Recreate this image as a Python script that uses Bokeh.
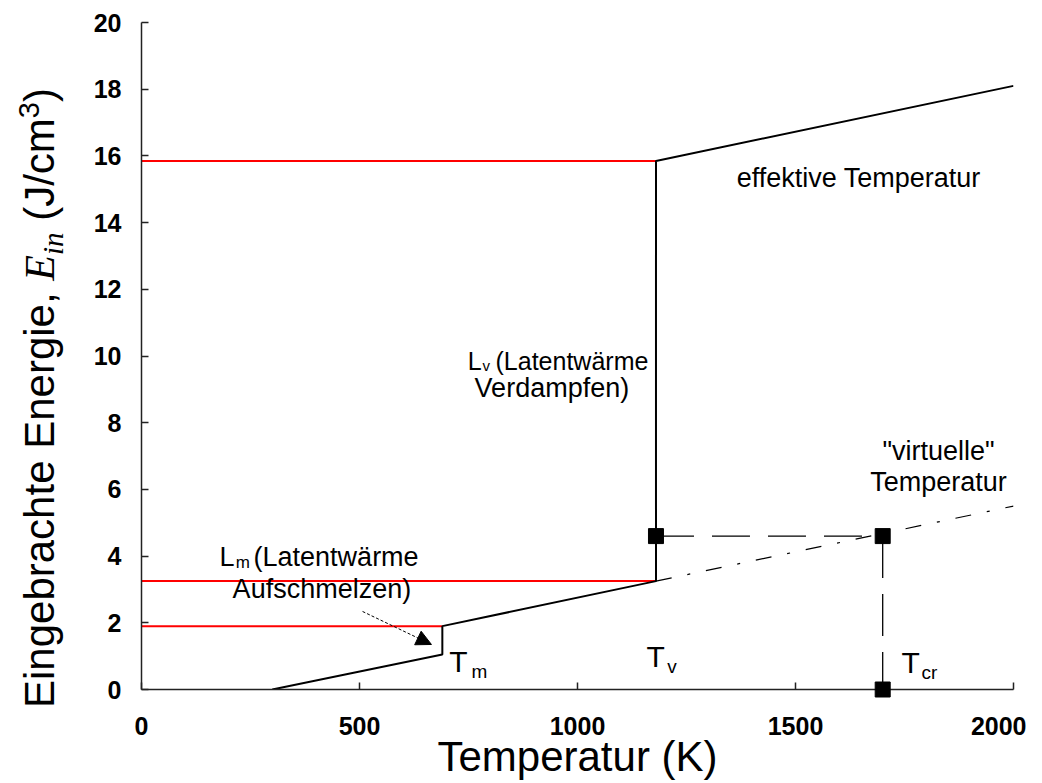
from bokeh.plotting import figure
from bokeh.layouts import row
from bokeh.models import ColumnDataSource, FixedTicker, Arrow, NormalHead, Range1d, Div
from bokeh.core.properties import value
from bokeh.embed import file_html
from bokeh.resources import INLINE

# ---- data ----
T_curve = [300, 690, 690, 1180, 1180, 2000]
E_curve = [0.0, 1.05, 1.9, 3.25, 15.85, 18.1]
T_virtual = [1180, 2000]
E_virtual = [3.25, 5.5]
E_red = [15.85, 3.25, 1.9]
T_red_end = [1180, 1180, 690]
T_points = [1180, 1700, 1700]
E_points = [4.6, 4.6, 0.0]
x_ticks = [0, 500, 1000, 1500, 2000]
y_ticks = [0, 2, 4, 6, 8, 10, 12, 14, 16, 18, 20]
x_title = "Temperatur (K)"
y_title_parts = ["Eingebrachte Energie, ", "E", "in", "(J/cm", "3", ")"]

FONT = "Liberation Sans"
SERIF = "Liberation Serif"
LEFT_W = 80

p = figure(frame_width=872, frame_height=667,
           x_range=Range1d(0, 2000), y_range=Range1d(0, 20),
           output_backend="svg", toolbar_location=None,
           min_border_left=61, min_border_top=22, min_border_right=13, min_border_bottom=80)
p.xgrid.visible = False
p.ygrid.visible = False
p.outline_line_color = None
p.background_fill_color = "white"
p.border_fill_color = "white"

for ax, ticks in ((p.xaxis, x_ticks), (p.yaxis, y_ticks)):
    ax.ticker = FixedTicker(ticks=ticks)
    ax.major_tick_in = 7
    ax.major_tick_out = 0
    ax.minor_tick_in = 0
    ax.minor_tick_out = 0
    ax.axis_line_color = "#222222"
    ax.axis_line_width = 1.5
    ax.major_tick_line_color = "#222222"
    ax.major_tick_line_width = 1.5
    ax.major_label_text_font = FONT
    ax.major_label_text_font_size = "25px"
    ax.major_label_text_font_style = "bold"
    ax.major_label_text_color = "black"

p.xaxis.major_label_standoff = 27
p.yaxis.major_label_standoff = 20
p.xaxis.axis_label = x_title
p.xaxis.axis_label_text_font = FONT
p.xaxis.axis_label_text_font_size = "42px"
p.xaxis.axis_label_text_font_style = "normal"
p.xaxis.axis_label_text_color = "black"
p.xaxis.axis_label_standoff = -5

# red horizontal reference lines
for e, t_end in zip(E_red, T_red_end):
    p.line([0, t_end], [e, e], line_color="#ff0000", line_width=2)

# solid curve
p.line(T_curve, E_curve, line_color="black", line_width=2)
# virtual temperature (dash-dot)
p.line(T_virtual, E_virtual, line_color="black", line_width=1.2, line_dash="16 16 3 16")
# dashed connectors
p.line(T_points[0:2], E_points[0:2], line_color="black", line_width=1.3, line_dash="38 18")
p.line(T_points[1:3], E_points[1:3], line_color="black", line_width=1.3, line_dash="42 16")
# markers (overlay level so the one on the axis is not cut by the frame)
p.scatter(T_points, E_points, marker="square", size=15, color="black", level="overlay")

# arrow for melting latent heat
p.add_layout(Arrow(end=NormalHead(size=15, fill_color="black", line_color="black"),
                   x_start=507, y_start=2.34, x_end=665, y_end=1.35,
                   line_color="black", line_width=1, line_dash="3 2"))

def txt(fig, xs, ys, texts, size, align="left"):
    src = ColumnDataSource(dict(x=xs, y=ys, text=texts))
    fig.text(x="x", y="y", text="text", source=src, text_font=value(FONT),
             text_font_size=size, text_align=align,
             text_baseline="alphabetic", text_color="black")

# main annotation texts
txt(p, [179, 257, 209, 1365], [3.96, 3.96, 3.0, 15.35],
    ["L", "(Latentwärme", "Aufschmelzen)", "effektive Temperatur"], "27px")
txt(p, [216], [3.81], ["m"], "17px")
txt(p, [748, 812], [9.865, 9.865], ["L", "(Latentwärme"], "25px")
txt(p, [782], [9.715], ["v"], "15px")
txt(p, [764], [9.055], ["Verdampfen)"], "27px")
txt(p, [1828, 1828], [7.14, 6.21], ['"virtuelle"', "Temperatur"], "27px", align="center")
# T labels
txt(p, [706, 1158, 1743], [0.84, 0.99, 0.81], ["T", "T", "T"], "30px")
txt(p, [757, 1206, 1789], [0.54, 0.69, 0.51], ["m", "v", "cr"], "19px")

# rotated y-axis title with mixed fonts (italic serif E_in, superscript 3)
a, e, sub, b, sup, c = y_title_parts
y_html = (
    '<div style="position:relative;width:%dpx;height:783px;">'
    '<div style="position:absolute;left:19px;top:708px;transform:rotate(-90deg);'
    'transform-origin:0 0;white-space:nowrap;font-family:\'%s\';font-size:42px;'
    'line-height:42px;color:#000;">'
    '%s<span style="font-family:\'%s\';font-style:italic;">%s'
    '<span style="font-size:29px;position:relative;top:9px;">%s</span></span>'
    '&nbsp;%s<span style="font-size:29px;position:relative;top:-15px;">%s</span>%s'
    '</div></div>'
) % (LEFT_W, FONT, a, SERIF, e, sub, b, sup, c)
ylab = Div(text=y_html, width=LEFT_W, height=783, margin=(0, 0, 0, 0))

layout = row(ylab, p, spacing=0)
open("out.html", "w").write(file_html(layout, INLINE, title="Eingebrachte Energie"))
